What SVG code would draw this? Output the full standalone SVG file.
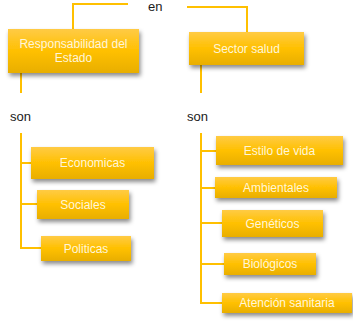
<svg xmlns="http://www.w3.org/2000/svg" width="353" height="323" viewBox="0 0 353 323">
<defs>
<linearGradient id="g" x1="0" y1="0" x2="0" y2="1">
<stop offset="0" stop-color="#FFCB45"/>
<stop offset="0.5" stop-color="#FFC000"/>
<stop offset="1" stop-color="#E8AE00"/>
</linearGradient>
<filter id="sh" x="-20%" y="-30%" width="140%" height="180%">
<feDropShadow dx="1.5" dy="3" stdDeviation="2" flood-color="#000" flood-opacity="0.45"/>
</filter>
</defs>
<style>
.box{fill:url(#g);filter:url(#sh)}
.bt{font-family:"Liberation Sans",Arial,sans-serif;font-size:12px;fill:#FFF6DA;text-anchor:middle;dominant-baseline:central}
.lbl{font-family:"Liberation Sans",Arial,sans-serif;font-size:13px;fill:#1a1a1a}
.c{fill:none;stroke:#FFC000;stroke-width:2}
</style>
<g id="connectors">
<path class="c" d="M73,29 V4 H128"/>
<path class="c" d="M187,7 H247 V32"/>
<path class="c" d="M21,73 V93"/>
<path class="c" d="M201,65 V93"/>
<path class="c" d="M21,133 V248 H41 M21,163 H31 M21,204 H37"/>
<path class="c" d="M201,133 V303 H222 M201,151 H216 M201,188 H215 M201,223 H222 M201,264 H224"/>
</g>
<g id="label-en"><text class="lbl" x="148" y="11">en</text></g>
<g id="label-son1"><text class="lbl" x="10" y="121">son</text></g>
<g id="label-son2"><text class="lbl" x="187" y="121">son</text></g>
<g id="n-estado"><rect class="box" x="8" y="29" width="131" height="44"/><text class="bt" x="73.5" y="44">Responsabilidad del</text><text class="bt" x="73.5" y="58">Estado</text></g>
<g id="n-salud"><rect class="box" x="189" y="32" width="115" height="33"/><text class="bt" x="246.5" y="48.5">Sector salud</text></g>
<g id="n-economicas"><rect class="box" x="31" y="147" width="123" height="32"/><text class="bt" x="92.5" y="163">Economicas</text></g>
<g id="n-sociales"><rect class="box" x="37" y="190" width="92" height="29"/><text class="bt" x="83" y="204.5">Sociales</text></g>
<g id="n-politicas"><rect class="box" x="41" y="236" width="90" height="25"/><text class="bt" x="86" y="248.5">Politicas</text></g>
<g id="n-estilo"><rect class="box" x="216" y="136" width="127" height="29"/><text class="bt" x="279.5" y="150.5">Estilo de vida</text></g>
<g id="n-ambientales"><rect class="box" x="215" y="177" width="122" height="21"/><text class="bt" x="276" y="187.5">Ambientales</text></g>
<g id="n-geneticos"><rect class="box" x="222" y="210" width="101" height="27"/><text class="bt" x="272.5" y="223.5">Genéticos</text></g>
<g id="n-biologicos"><rect class="box" x="224" y="253" width="92" height="22"/><text class="bt" x="270" y="264">Biológicos</text></g>
<g id="n-atencion"><rect class="box" x="222" y="293" width="130" height="20"/><text class="bt" x="287" y="303">Atención sanitaria</text></g>
</svg>
